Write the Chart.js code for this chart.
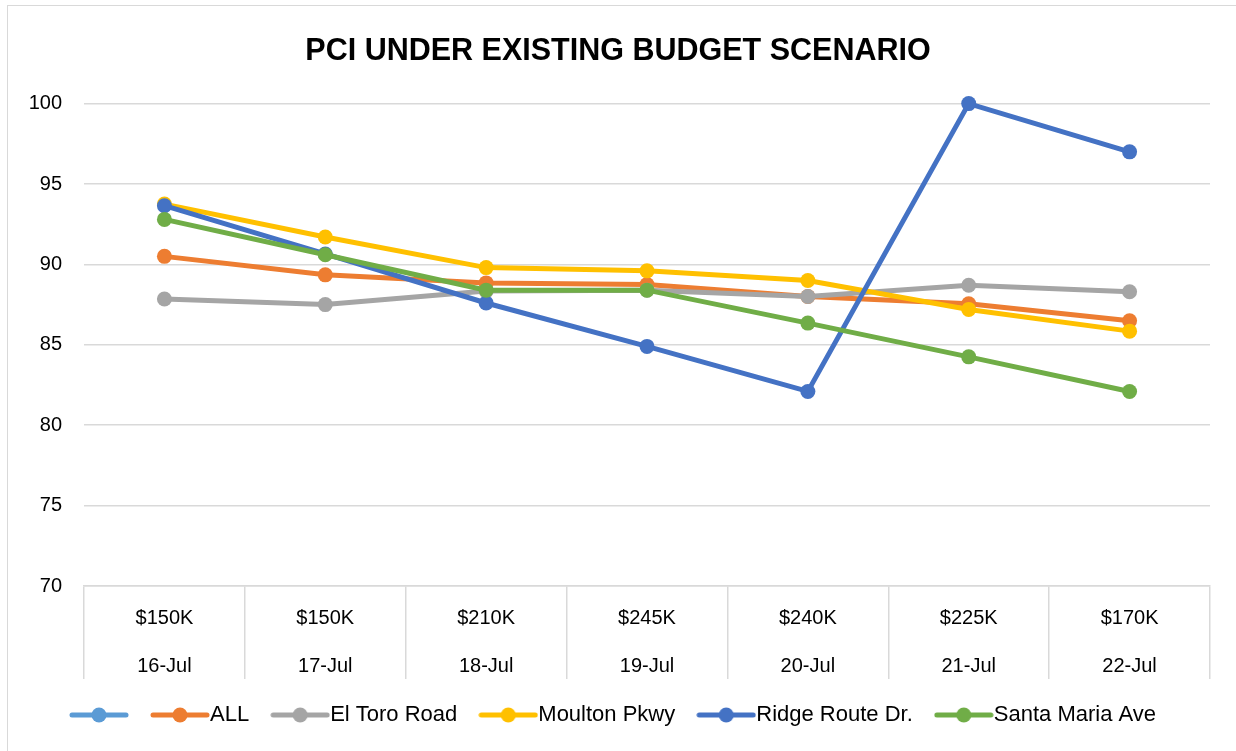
<!DOCTYPE html>
<html>
<head>
<meta charset="utf-8">
<title>PCI Under Existing Budget Scenario</title>
<script src="https://cdn.jsdelivr.net/npm/chart.js@4"></script>
<style>
  html, body { margin: 0; padding: 0; background: #fff; }
  #frame {
    position: absolute; left: 7px; top: 5px; width: 1240px; height: 760px;
    border-left: 1.5px solid #d9d9d9; border-top: 1.5px solid #d9d9d9;
  }
  #wrap { position: absolute; left: 0; top: 0; width: 1236px; height: 751px; }
</style>
</head>
<body>
<div id="frame"></div>
<div id="wrap"><canvas id="pciChart"></canvas></div>
<script>
// ---- data ----
const budgets = ['$150K', '$150K', '$210K', '$245K', '$240K', '$225K', '$170K'];
const dates = ['16-Jul', '17-Jul', '18-Jul', '19-Jul', '20-Jul', '21-Jul', '22-Jul'];

const seriesNames = ['', 'ALL', 'El Toro Road', 'Moulton Pkwy', 'Ridge Route Dr.', 'Santa Maria Ave'];
const seriesColors = ['#5B9BD5', '#ED7D31', '#A5A5A5', '#FFC000', '#4472C4', '#70AD47'];

const blankValues = [];
const allValues = [90.5, 89.35, 88.85, 88.75, 88.0, 87.55, 86.5];
const elToroValues = [87.85, 87.5, 88.35, 88.4, 88.0, 88.7, 88.3];
const moultonValues = [93.75, 91.7, 89.8, 89.6, 89.0, 87.2, 85.85];
const ridgeValues = [93.65, 90.65, 87.6, 84.9, 82.1, 100, 97.0];
const santaMariaValues = [92.8, 90.6, 88.4, 88.4, 86.35, 84.25, 82.1];

const yTicks = [70, 75, 80, 85, 90, 95, 100];

const seriesValues = [blankValues, allValues, elToroValues, moultonValues, ridgeValues, santaMariaValues];

const FONT = '"Liberation Sans", Arial, sans-serif';

// line + dot swatch for the legend, like Excel's
function legendSwatch(color) {
  const c = document.createElement('canvas');
  c.width = 60; c.height = 18;
  const g = c.getContext('2d');
  g.strokeStyle = color;
  g.lineWidth = 5;
  g.lineCap = 'round';
  g.beginPath(); g.moveTo(3, 9); g.lineTo(57, 9); g.stroke();
  g.fillStyle = color;
  g.beginPath(); g.arc(30, 9, 7.5, 0, Math.PI * 2); g.fill();
  return c;
}

const datasets = seriesNames.map((name, i) => ({
  label: name,
  data: seriesValues[i],
  borderColor: seriesColors[i],
  backgroundColor: seriesColors[i],
  borderWidth: 5,
  pointRadius: 7.5,
  pointHoverRadius: 7.5,
  pointBorderWidth: 0,
  pointStyle: 'circle',
  tension: 0,
  fill: false,
  clip: 12,
  order: seriesNames.length - 1 - i, // later series on top, as in Excel
  swatch: legendSwatch(seriesColors[i]),
}));

const ctx = document.getElementById('pciChart').getContext('2d');

new Chart(ctx, {
  type: 'line',
  data: {
    labels: budgets.map((b, i) => [b, dates[i]]),
    datasets: datasets
  },
  options: {
    responsive: true,
    maintainAspectRatio: false,
    animation: false,
    layout: { padding: { left: 26, right: 26, top: 0, bottom: 15 } },
    plugins: {
      title: {
        display: true,
        text: 'PCI UNDER EXISTING BUDGET SCENARIO',
        color: '#000',
        font: { family: FONT, size: 30.5, weight: 'bold' },
        padding: { top: 33, bottom: 34 }
      },
      legend: {
        position: 'bottom',
        labels: {
          usePointStyle: true,
          pointStyleWidth: 38,
          boxHeight: 18,
          padding: 32,
          color: '#000',
          font: { family: FONT, size: 22 },
          sort: (a, b) => a.datasetIndex - b.datasetIndex,
          generateLabels: function(chart) {
            return chart.data.datasets.map((ds, i) => ({
              text: ds.label,
              datasetIndex: i,
              pointStyle: ds.swatch,
              fillStyle: ds.borderColor,
              strokeStyle: ds.borderColor,
              lineWidth: 0,
              hidden: false,
            }));
          }
        }
      },
      tooltip: { enabled: false }
    },
    scales: {
      x: {
        offset: true,
        grid: {
          offset: true,
          drawOnChartArea: false,
          drawTicks: true,
          tickLength: 93,
          color: '#d9d9d9',
          lineWidth: 1.5
        },
        border: { display: true, color: '#d9d9d9', width: 1.5 },
        ticks: {
          color: '#000',
          font: { family: FONT, size: 20, lineHeight: 2.4 },
          padding: -85,
          maxRotation: 0,
          autoSkip: false
        },
        afterFit: function(scale) { scale.height = 86; }
      },
      y: {
        min: 70,
        max: 100,
        afterBuildTicks: function(scale) {
          scale.ticks = yTicks.map(v => ({ value: v }));
        },
        grid: {
          color: '#d9d9d9',
          lineWidth: 1.5,
          drawTicks: false
        },
        border: { display: false },
        ticks: {
          color: '#000',
          font: { family: FONT, size: 20 },
          padding: 22
        },
        afterFit: function(scale) { scale.width = 58; }
      }
    }
  }
});
</script>
</body>
</html>
